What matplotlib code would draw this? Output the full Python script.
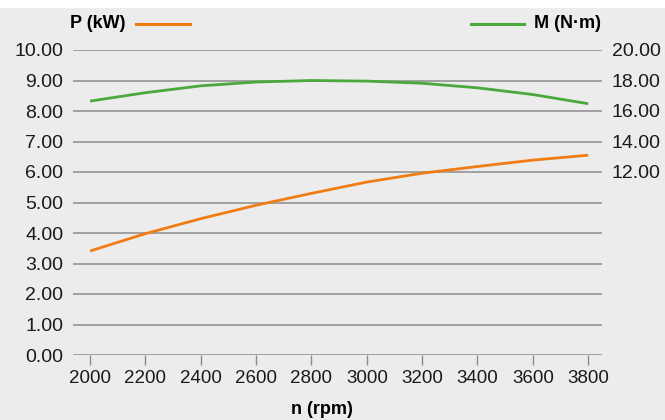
import matplotlib
matplotlib.use('Agg')
import matplotlib.pyplot as plt
from matplotlib.patches import Rectangle

# data
rpm = [2000, 2200, 2400, 2600, 2800, 3000, 3200, 3400, 3600, 3800]
power_kw = [3.41, 3.98, 4.47, 4.91, 5.30, 5.67, 5.96, 6.18, 6.39, 6.55]
torque_nm = [16.65, 17.20, 17.65, 17.90, 18.00, 17.96, 17.82, 17.52, 17.08, 16.48]
left_ticks = [0, 1, 2, 3, 4, 5, 6, 7, 8, 9, 10]
right_ticks = [12, 14, 16, 18, 20]

BG = '#ececec'
GRID = '#8c8c8c'
ORANGE = '#f07d14'
GREEN = '#4aa83c'
W, H = 665, 420

plt.rcParams['font.family'] = ['Liberation Sans', 'DejaVu Sans']

fig = plt.figure(figsize=(W / 100, H / 100), dpi=100)
fig.patch.set_facecolor(BG)
fig.patches.append(Rectangle((0, 1 - 8 / H), 1, 8 / H, transform=fig.transFigure,
                             facecolor='white', edgecolor='none', zorder=0))

# plot area: x 73..602 px, y 50..355 px
ax = fig.add_axes([73 / W, (H - 355) / H, 529 / W, 305 / H])
ax.set_facecolor(BG)
ax.set_xlim(1938, 3850)
ax.set_ylim(0, 10)
for s in ax.spines.values():
    s.set_visible(False)

for v in left_ticks:
    ax.axhline(v, color=GRID, lw=1.1, zorder=1)

ax.plot(rpm, power_kw, color=ORANGE, lw=2, zorder=3, solid_capstyle='butt')

ax.set_yticks(left_ticks)
ax.set_yticklabels([f'{v:.2f}' for v in left_ticks])
ax.tick_params(axis='y', length=0, pad=7, labelsize=14, labelcolor='#1a1a1a')
ax.set_xticks(rpm)
ax.set_xticklabels([str(v) for v in rpm])
ax.tick_params(axis='x', direction='out', length=7.5, width=1, color=GRID,
               pad=3, labelsize=13.5, labelcolor='#1a1a1a')
ax.set_xlabel('n (rpm)', fontsize=13, fontweight='bold')
ax.xaxis.set_label_coords((321.5 - 73) / 529, -(410 - 355) / 305)
ax.xaxis.label.set_va('center')

ax2 = ax.twinx()
ax2.set_ylim(0, 20)
for s in ax2.spines.values():
    s.set_visible(False)
ax2.plot(rpm, torque_nm, color=GREEN, lw=2, zorder=3, solid_capstyle='butt')
ax2.set_yticks(right_ticks)
ax2.set_yticklabels([f'{v:.2f}' for v in right_ticks])
ax2.tick_params(axis='y', length=0, pad=7, labelsize=14, labelcolor='#1a1a1a')

# header legend
hy = 1 - 24 / H
fig.text(70 / W, hy, 'P (kW)', fontsize=13, fontweight='bold', va='center', ha='left')
fig.add_artist(plt.Line2D([136 / W, 190 / W], [hy, hy], color=ORANGE, lw=2.2,
                          transform=fig.transFigure))
fig.add_artist(plt.Line2D([471 / W, 524 / W], [hy, hy], color=GREEN, lw=2.2,
                          transform=fig.transFigure))
fig.text(534 / W, hy, 'M (N·m)', fontsize=13, fontweight='bold', va='center', ha='left')

fig.savefig('out.png', dpi=100, facecolor=BG)
